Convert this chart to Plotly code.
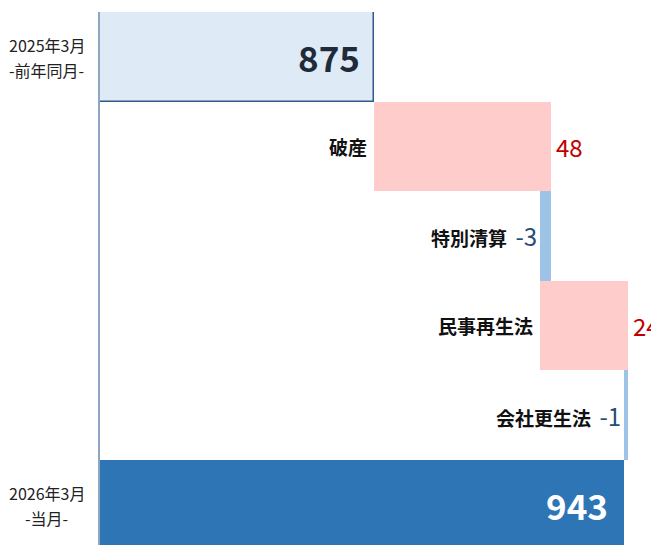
import plotly.graph_objects as go

# data
period_labels = [["2025年3月", "-前年同月-"], ["2026年3月", "-当月-"]]
prev_total = 875
curr_total = 943
categories = ["破産", "特別清算", "民事再生法", "会社更生法"]
changes = [48, -3, 24, -1]

AXIS_MIN = 800.3
AXIS_MAX = 952.5
FONT = "Noto Sans CJK JP"

UP_COLOR = "#ffcccc"
DOWN_COLOR = "#9dc3e6"
PREV_COLOR = "#deeaf6"
CURR_COLOR = "#2e75b6"

# running totals for waterfall bases
bases = []
running = prev_total
for c in changes:
    bases.append(running)
    running += c

ys = list(range(len(categories) + 2))
xs = [prev_total] + changes + [curr_total]
bar_bases = [0] + bases + [0]
colors = [PREV_COLOR] + [UP_COLOR if c > 0 else DOWN_COLOR for c in changes] + [CURR_COLOR]
line_w = [1.5] + [0] * len(changes) + [0]

fig = go.Figure(go.Bar(
    y=ys,
    x=xs,
    base=bar_bases,
    orientation="h",
    width=1,
    marker=dict(color=colors, line=dict(color="#2f5a8a", width=line_w)),
    hoverinfo="skip",
))

annotations = []

# totals
annotations.append(dict(x=prev_total, y=0, text="<b>%d</b>" % prev_total,
                        xanchor="right", xshift=-12, showarrow=False,
                        font=dict(size=35, color="#1f2a3a", family=FONT)))
annotations.append(dict(x=curr_total, y=len(ys) - 1, text="<b>%d</b>" % curr_total,
                        xanchor="right", xshift=-14, showarrow=False,
                        font=dict(size=35, color="white", family=FONT)))

# change rows
for i, (cat, c, b) in enumerate(zip(categories, changes, bases)):
    y = i + 1
    if c > 0:
        annotations.append(dict(x=b, y=y, text="<b>%s</b>" % cat, xanchor="right", xshift=-5,
                                showarrow=False, font=dict(size=19, color="#111111", family=FONT)))
        annotations.append(dict(x=b + c, y=y, text=str(c), xanchor="left", xshift=3,
                                showarrow=False, font=dict(size=24, color="#c00000", family=FONT)))
    else:
        txt = "<b>%s</b>  <span style='color:#1f4e79;font-size:24px;font-weight:normal'>%d</span>" % (cat, c)
        annotations.append(dict(x=b + c, y=y, text=txt, xanchor="right", xshift=-1,
                                showarrow=False, font=dict(size=19, color="#111111", family=FONT)))

# period labels left of the axis
for y, lines in zip([0, len(ys) - 1], period_labels):
    for k, line in enumerate(lines):
        annotations.append(dict(x=-0.095, xref="paper", y=y, yref="y", text=line,
                                xanchor="center", yanchor="middle", yshift=12 - 25 * k,
                                showarrow=False, font=dict(size=16, color="#222222", family=FONT)))

# page body has an 8px default margin, so offset the figure accordingly
fig.update_layout(
    width=651, height=537,
    margin=dict(l=92, r=0, t=4, b=0),
    plot_bgcolor="white", paper_bgcolor="white",
    showlegend=False,
    bargap=0,
    annotations=annotations,
    font=dict(family=FONT),
    xaxis=dict(range=[AXIS_MIN, AXIS_MAX], showgrid=False, zeroline=False,
               showticklabels=False, ticks=""),
    yaxis=dict(range=[5.45, -0.5], showgrid=False, zeroline=False, showticklabels=False,
               ticks="", showline=True, linecolor="#8ea6c4", linewidth=2),
)

fig.write_html("out.html")
